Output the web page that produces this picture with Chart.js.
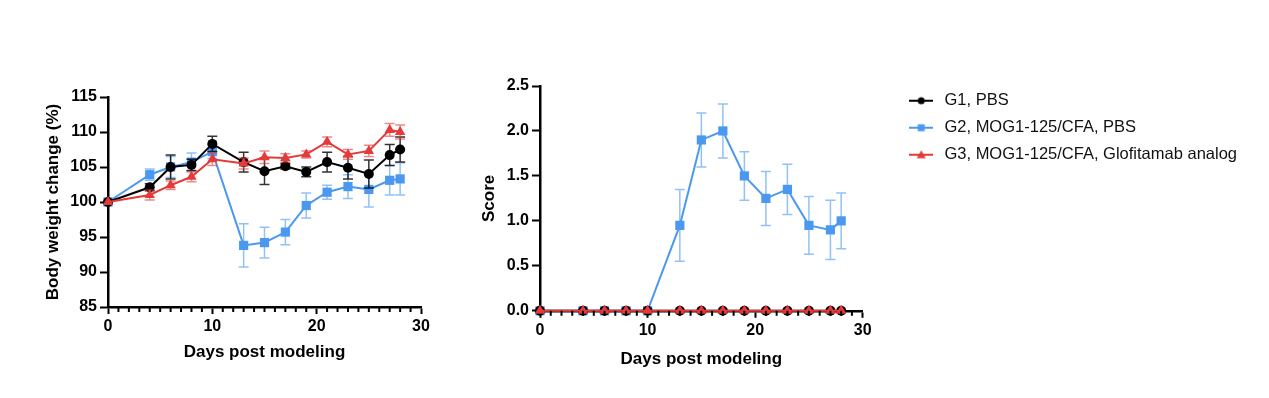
<!DOCTYPE html>
<html>
<head>
<meta charset="utf-8">
<script src="https://cdn.jsdelivr.net/npm/chart.js@4.4.1/dist/chart.umd.min.js"></script>
<style>
  html, body { margin: 0; padding: 0; background: #fff; }
  body { width: 1269px; height: 398px; position: relative; overflow: hidden; }
  .box { position: absolute; top: 0; height: 398px; }
  #box-weight { left: 0; width: 460px; }
  #box-score { left: 440px; width: 829px; }
</style>
</head>
<body>
<div class="box" id="box-weight"><canvas id="chart-weight"></canvas></div>
<div class="box" id="box-score"><canvas id="chart-score"></canvas></div>
<script>
// Days of measurement
const days = [0, 4, 6, 8, 10, 13, 15, 17, 19, 21, 23, 25, 27, 28];

// Body weight change (%), mean and SEM
const g1Weight    = [100, 102.1, 105.0, 105.3, 108.3, 105.7, 104.4, 105.1, 104.3, 105.7, 104.9, 104.0, 106.7, 107.5];
const g1WeightErr = [0, 0.5, 1.7, 0.8, 1.1, 1.4, 1.9, 0.4, 0.7, 1.4, 1.6, 2.0, 1.5, 1.8];
const g2Weight    = [100, 103.9, 105.0, 105.7, 107.2, 93.8, 94.2, 95.7, 99.5, 101.4, 102.2, 101.8, 103.1, 103.3];
const g2WeightErr = [0, 0.8, 1.5, 1.3, 1.0, 3.1, 2.2, 1.8, 1.8, 1.0, 1.7, 2.5, 2.1, 2.3];
const g3Weight    = [100, 101.0, 102.4, 103.6, 106.1, 105.5, 106.4, 106.3, 106.8, 108.6, 106.8, 107.3, 110.3, 110.0];
const g3WeightErr = [0, 0.7, 0.6, 0.7, 0.9, 0.8, 0.9, 0.6, 0.5, 0.7, 0.7, 0.8, 0.9, 1.0];

// Clinical score, mean and SEM
const g1Score    = [0, 0, 0, 0, 0, 0, 0, 0, 0, 0, 0, 0, 0, 0];
const g2Score    = [0, 0, 0, 0, 0, 0.95, 1.9, 2.0, 1.5, 1.25, 1.35, 0.95, 0.9, 1.0];
const g2ScoreErr = [0, 0, 0, 0, 0, 0.4, 0.3, 0.3, 0.27, 0.3, 0.28, 0.32, 0.33, 0.31];
const g3Score    = [0, 0, 0, 0, 0, 0, 0, 0, 0, 0, 0, 0, 0, 0];

const groupNames = ['G1, PBS', 'G2, MOG1-125/CFA, PBS', 'G3, MOG1-125/CFA, Glofitamab analog'];
const weightTicks = [85, 90, 95, 100, 105, 110, 115];
const scoreTicks = [0, 0.5, 1.0, 1.5, 2.0, 2.5];

const COLORS = {
    black: '#000000',
    blue: 'rgb(74, 152, 240)',
    red: 'rgb(228, 58, 58)',
    blackErr: 'rgba(0, 0, 0, 0.8)',
    blueErr: 'rgba(74, 152, 240, 0.6)',
    redErr: 'rgba(228, 58, 58, 0.6)'
};

const FONT = "'Liberation Sans', Arial, Helvetica, sans-serif";
Chart.defaults.font.family = FONT;
Chart.defaults.color = '#000';

// --- helpers ---

function toPoints(values) {
    return values.map((v, i) => ({ x: days[i], y: v }));
}

// error bars drawn under each dataset's line
const errorBars = {
    id: 'errorBars',
    beforeDatasetDraw(chart, args) {
        const ds = chart.data.datasets[args.index];
        if (!ds.errors) return;
        const yScale = chart.scales.y;
        const ctx = chart.ctx;
        ctx.save();
        ctx.strokeStyle = ds.errorColor;
        ctx.lineWidth = 1.5;
        args.meta.data.forEach((pt, i) => {
            const e = ds.errors[i];
            if (!e) return;
            const v = ds.data[i].y;
            const top = yScale.getPixelForValue(v + e);
            const bot = yScale.getPixelForValue(v - e);
            ctx.beginPath();
            ctx.moveTo(pt.x, top); ctx.lineTo(pt.x, bot);
            ctx.moveTo(pt.x - 5, top); ctx.lineTo(pt.x + 5, top);
            ctx.moveTo(pt.x - 5, bot); ctx.lineTo(pt.x + 5, bot);
            ctx.stroke();
        });
        ctx.restore();
    }
};

// small ticks every day on the x axis
const minorTicks = {
    id: 'minorTicks',
    afterDraw(chart) {
        const xs = chart.scales.x;
        const ctx = chart.ctx;
        ctx.save();
        ctx.strokeStyle = '#000';
        ctx.lineWidth = 2;
        for (let d = xs.min; d <= xs.max; d++) {
            if (d % 10 === 0) continue;
            const px = xs.getPixelForValue(d);
            ctx.beginPath();
            ctx.moveTo(px, xs.top);
            ctx.lineTo(px, xs.top + 5);
            ctx.stroke();
        }
        ctx.restore();
    }
};

// legend icon: short line with the marker in the middle
function legendIcon(color, style) {
    const c = document.createElement('canvas');
    c.width = 24; c.height = 12;
    const ctx = c.getContext('2d');
    ctx.strokeStyle = color;
    ctx.fillStyle = color;
    ctx.lineWidth = 2;
    ctx.beginPath(); ctx.moveTo(0, 6); ctx.lineTo(24, 6); ctx.stroke();
    ctx.beginPath();
    if (style === 'circle') {
        ctx.arc(12, 6, 3.5, 0, Math.PI * 2);
    } else if (style === 'rect') {
        ctx.rect(8.5, 2.5, 7, 7);
    } else {
        ctx.moveTo(12, 1.5); ctx.lineTo(16.5, 9.5); ctx.lineTo(7.5, 9.5); ctx.closePath();
    }
    ctx.fill();
    return c;
}
const legendIcons = [
    legendIcon(COLORS.black, 'circle'),
    legendIcon(COLORS.blue, 'rect'),
    legendIcon(COLORS.red, 'triangle')
];

function makeDatasets(v1, v2, v3, e1, e2, e3) {
    return [
        {
            label: groupNames[0], data: toPoints(v1), errors: e1, errorColor: COLORS.blackErr,
            borderColor: COLORS.black, backgroundColor: COLORS.black,
            pointStyle: 'circle', pointRadius: 5, order: 1
        },
        {
            label: groupNames[1], data: toPoints(v2), errors: e2, errorColor: COLORS.blueErr,
            borderColor: COLORS.blue, backgroundColor: COLORS.blue,
            pointStyle: 'rect', pointRadius: 6.5, order: 2
        },
        {
            label: groupNames[2], data: toPoints(v3), errors: e3, errorColor: COLORS.redErr,
            borderColor: COLORS.red, backgroundColor: COLORS.red,
            pointStyle: 'triangle', pointRadius: 6, order: 0
        }
    ].map(ds => Object.assign(ds, {
        borderWidth: 2, pointBorderWidth: 0, tension: 0, clip: false, pointHoverRadius: 6
    }));
}

function xAxis(titlePadTop, labelPad) {
    return {
        type: 'linear', min: 0, max: 30,
        border: { display: true, color: '#000', width: 2.5 },
        grid: { drawOnChartArea: false, drawTicks: true, tickLength: 7, tickWidth: 2, tickColor: '#000' },
        ticks: { stepSize: 10, padding: labelPad, font: { size: 16, weight: 'bold' }, maxRotation: 0 },
        title: { display: true, text: 'Days post modeling', padding: { top: titlePadTop, bottom: 4 },
                 font: { size: 17, weight: 'bold' } }
    };
}

function yAxis(title, ticks, width, fmt) {
    return {
        type: 'linear', min: ticks[0], max: ticks[ticks.length - 1],
        afterBuildTicks: s => { s.ticks = ticks.map(v => ({ value: v })); },
        afterFit: s => { s.width = width; },
        border: { display: true, color: '#000', width: 2.5 },
        grid: { drawOnChartArea: false, drawTicks: true, tickLength: 8, tickWidth: 2, tickColor: '#000' },
        ticks: { padding: 3, font: { size: 16, weight: 'bold' }, callback: fmt },
        title: { display: true, text: title, padding: { top: 0, bottom: 0 },
                 font: { size: 17, weight: 'bold' } }
    };
}

// --- body weight chart ---

new Chart(document.getElementById('chart-weight'), {
    type: 'line',
    data: { datasets: makeDatasets(g1Weight, g2Weight, g3Weight, g1WeightErr, g2WeightErr, g3WeightErr) },
    options: {
        responsive: true,
        maintainAspectRatio: false,
        animation: false,
        layout: { padding: { left: 43.3, top: 97, right: 39, bottom: 31.8 } },
        plugins: { legend: { display: false }, tooltip: { enabled: false } },
        scales: {
            x: xAxis(2.6, 3),
            y: yAxis('Body weight change (%)', weightTicks, 64.7, v => v)
        }
    },
    plugins: [errorBars, minorTicks]
});

// --- score chart with legend ---

new Chart(document.getElementById('chart-score'), {
    type: 'line',
    data: { datasets: makeDatasets(g1Score, g2Score, g3Score, null, g2ScoreErr, null) },
    options: {
        responsive: true,
        maintainAspectRatio: false,
        animation: false,
        layout: { padding: { left: 38.8, top: 82, right: 22, bottom: 24.8 } },
        plugins: {
            tooltip: { enabled: false },
            legend: {
                position: 'right',
                align: 'start',
                maxWidth: 400,
                labels: {
                    usePointStyle: true,
                    pointStyleWidth: 30,
                    padding: 10.5,
                    color: '#111',
                    font: { size: 16.5 },
                    sort: (a, b) => a.datasetIndex - b.datasetIndex,
                    generateLabels: chart => {
                        const items = Chart.defaults.plugins.legend.labels.generateLabels(chart);
                        items.forEach(it => { it.pointStyle = legendIcons[it.datasetIndex]; });
                        return items;
                    }
                }
            }
        },
        scales: {
            x: xAxis(5.0, 3.4),
            y: yAxis('Score', scoreTicks, 61.2, v => Number(v).toFixed(1)),
            // spacers: keep plot area clear of the legend
            padTop: {
                type: 'linear', position: 'top', display: true,
                ticks: { display: false }, grid: { display: false, drawTicks: false },
                border: { display: false }, afterFit: s => { s.height = 4; }
            },
            padRight: {
                type: 'linear', position: 'right', display: true,
                ticks: { display: false }, grid: { display: false, drawTicks: false },
                border: { display: false }, afterFit: s => { s.width = 33; }
            }
        }
    },
    plugins: [errorBars, minorTicks]
});
</script>
</body>
</html>
